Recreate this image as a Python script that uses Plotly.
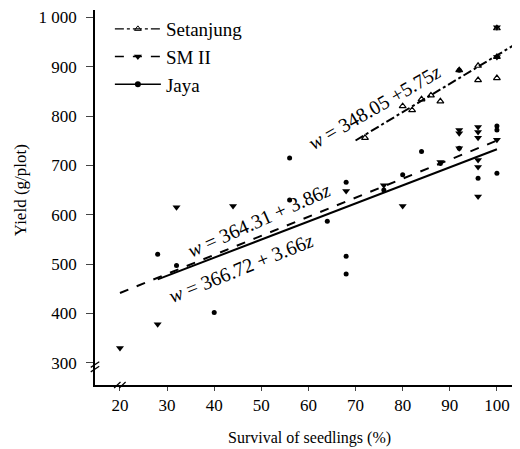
import plotly.graph_objects as go

# ---- data ----
set_x = [72, 80, 82, 84, 86, 88, 92, 96, 96, 100, 100, 100]
set_y = [756, 820, 812, 834, 842, 830, 893, 902, 873, 920, 877, 978]

sm_x = [20, 28, 32, 44, 68, 76, 80, 88, 92, 92, 92, 96, 96, 96, 96, 96, 96, 100, 100, 100]
sm_y = [330, 378, 615, 618, 648, 660, 618, 707, 735, 772, 765, 778, 768, 756, 711, 697, 637, 752, 920, 980]

jaya_x = [28, 32, 40, 56, 56, 64, 68, 68, 68, 76, 80, 84, 88, 92, 96, 100, 100, 100, 92]
jaya_y = [520, 497, 402, 630, 715, 587, 666, 516, 480, 650, 681, 728, 704, 735, 674, 684, 772, 780, 893]

# regression equations  w = a + b z  and fitted z-ranges
set_a, set_b, set_z = 348.05, 5.75, [70, 105]
sm_a, sm_b, sm_z = 364.31, 3.86, [20, 100]
jaya_a, jaya_b, jaya_z = 366.72, 3.66, [28, 100]

x_ticks = [20, 30, 40, 50, 60, 70, 80, 90, 100]
y_ticks = [300, 400, 500, 600, 700, 800, 900, 1000]
y_tick_text = ["300", "400", "500", "600", "700", "800", "900", "1 000"]

FONT = "Liberation Serif"
fig = go.Figure()

def line_y(a, b, zs):
    return [a + b * z for z in zs]

# regression lines
fig.add_trace(go.Scatter(x=set_z, y=line_y(set_a, set_b, set_z), mode="lines",
                         line=dict(color="black", width=2, dash="dashdot"), showlegend=False))
fig.add_trace(go.Scatter(x=sm_z, y=line_y(sm_a, sm_b, sm_z), mode="lines",
                         line=dict(color="black", width=2, dash="dash"), showlegend=False))
fig.add_trace(go.Scatter(x=jaya_z, y=line_y(jaya_a, jaya_b, jaya_z), mode="lines",
                         line=dict(color="black", width=2), showlegend=False))

# points
fig.add_trace(go.Scatter(x=set_x, y=set_y, mode="markers",
                         marker=dict(symbol="triangle-up-open", size=6, color="black", line=dict(width=1.2)),
                         showlegend=False))
fig.add_trace(go.Scatter(x=sm_x, y=sm_y, mode="markers",
                         marker=dict(symbol="triangle-down", size=7, color="black"), showlegend=False))
fig.add_trace(go.Scatter(x=jaya_x, y=jaya_y, mode="markers",
                         marker=dict(symbol="circle", size=5, color="black"), showlegend=False))

# legend entries
fig.add_trace(go.Scatter(x=[None], y=[None], mode="lines+markers", name="Setanjung",
                         line=dict(color="black", width=1.2, dash="dashdot"),
                         marker=dict(symbol="triangle-up-open", size=6, color="black")))
fig.add_trace(go.Scatter(x=[None], y=[None], mode="lines+markers", name="SM II",
                         line=dict(color="black", width=1.5, dash="dash"),
                         marker=dict(symbol="triangle-down", size=7, color="black")))
fig.add_trace(go.Scatter(x=[None], y=[None], mode="lines+markers", name="Jaya",
                         line=dict(color="black", width=1.5),
                         marker=dict(symbol="circle", size=6, color="black")))

# equation labels
fig.add_annotation(x=74.1, y=818, text="<i>w</i> = 348.05 +5.75<i>z</i>", showarrow=False,
                   textangle=-30, font=dict(family=FONT, size=20, color="black"))
fig.add_annotation(x=49.5, y=589, text="<i>w</i> = 364.31 + 3.86<i>z</i>", showarrow=False,
                   textangle=-24, font=dict(family=FONT, size=20, color="black"))
fig.add_annotation(x=45.7, y=492, text="<i>w</i> = 366.72 + 3.66<i>z</i>", showarrow=False,
                   textangle=-22, font=dict(family=FONT, size=20, color="black"))

# axis titles
fig.add_annotation(xref="paper", yref="paper", x=0.504, y=-0.141, xanchor="center", yanchor="middle",
                   text="Survival of seedlings (%)",
                   showarrow=False, font=dict(family=FONT, size=16, color="black"))
fig.add_annotation(xref="paper", yref="paper", x=-0.176, y=0.52, xanchor="center", yanchor="middle",
                   text="Yield (g/plot)",
                   showarrow=False, textangle=-90, font=dict(family=FONT, size=17, color="black"))

# axis break marks
for dx in (0.0, 0.012):
    fig.add_shape(type="line", xref="paper", yref="paper",
                  x0=0.045 + dx, y0=-0.008, x1=0.06 + dx, y1=0.008,
                  line=dict(color="black", width=1.2))
for dy in (0.0, 0.012):
    fig.add_shape(type="line", xref="paper", yref="paper",
                  x0=-0.01, y0=0.035 + dy, x1=0.01, y1=0.05 + dy,
                  line=dict(color="black", width=1.2))

# page body has an 8 px margin: figure is offset by 8 px right and down
fig.update_layout(
    width=512, height=441,
    margin=dict(l=87, r=0, t=2, b=64, autoexpand=False),
    paper_bgcolor="white", plot_bgcolor="white",
    font=dict(family=FONT, size=17, color="black"),
    legend=dict(x=0.035, y=1.0, xanchor="left", yanchor="top",
                bgcolor="rgba(0,0,0,0)", font=dict(family=FONT, size=19),
                itemwidth=46, tracegroupgap=0),
    xaxis=dict(range=[14.7, 104.9], tickvals=x_ticks, ticks="outside", ticklen=4, automargin=False,
               showline=True, linecolor="black", linewidth=1.5, showgrid=False, zeroline=False,
               tickfont=dict(family=FONT, size=17)),
    yaxis=dict(range=[255, 1015], tickvals=y_ticks, ticktext=y_tick_text, ticks="outside", ticklen=7,
               automargin=False, ticklabelstandoff=6,
               showline=True, linecolor="black", linewidth=1.5, showgrid=False, zeroline=False,
               tickfont=dict(family=FONT, size=17)),
)

fig.write_html("out.html")
